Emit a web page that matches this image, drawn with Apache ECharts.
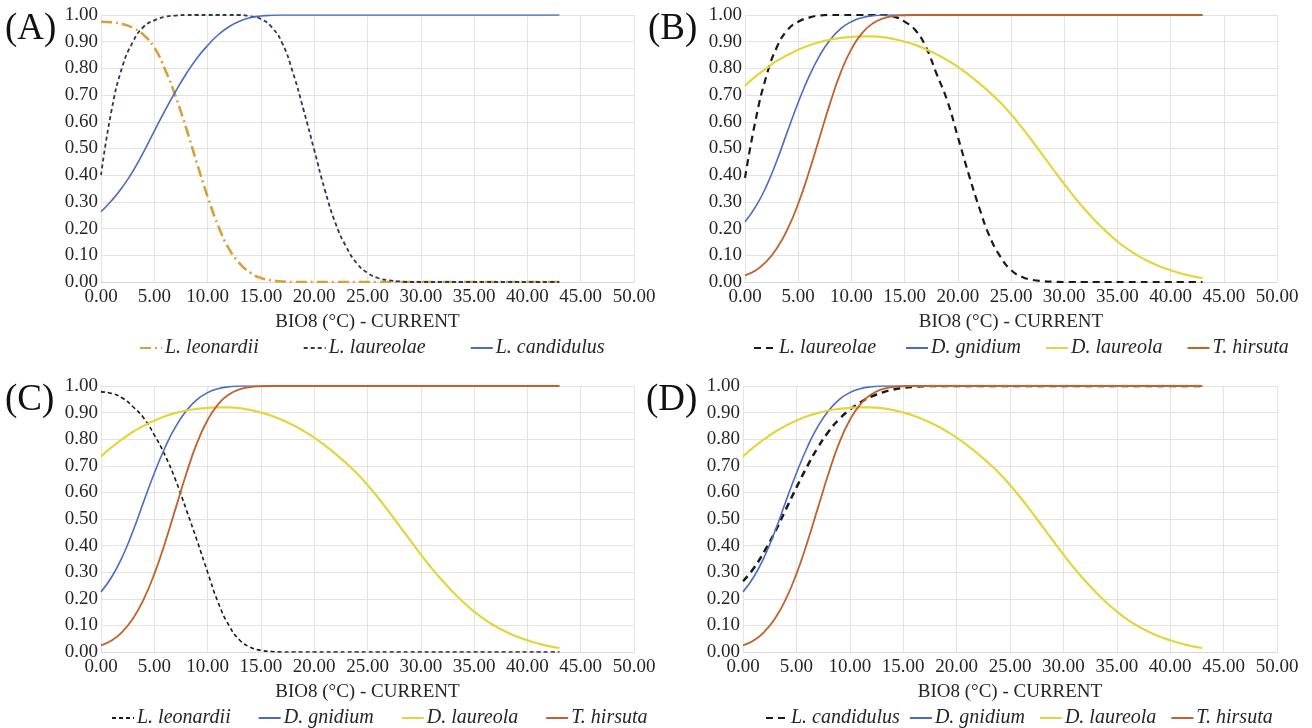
<!DOCTYPE html>
<html>
<head>
<meta charset="utf-8">
<script src="https://cdn.jsdelivr.net/npm/echarts@6/dist/echarts.min.js"></script>
<style>
html,body{margin:0;padding:0;background:#fff;}
#chart{width:1312px;height:728px;}
</style>
</head>
<body>
<div id="chart"></div>
<script>
// x values (BIO8, °C)
const bio8 = [0,1,2,3,4,5,6,7,8,9,10,11,12,13,14,15,16,17,18,19,20,21,22,23,24,25,26,27,28,29,30,31,32,33,34,35,36,37,38,39,40,41,42,43];

// Panel A
const A_leonardii = [0.975,0.973,0.966,0.952,0.925,0.878,0.797,0.695,0.575,0.445,0.32,0.21,0.125,0.07,0.035,0.015,0.006,0.002,0,0,0,0,0,0,0,0,0,0,0,0,0,0,0,0,0,0,0,0,0,0,0,0,0,0];
const A_laureolae = [0.4,0.645,0.806,0.9,0.956,0.98,0.993,0.998,1,1,1,1,1,1,0.995,0.985,0.955,0.895,0.785,0.645,0.495,0.345,0.22,0.132,0.07,0.034,0.015,0.006,0.002,0,0,0,0,0,0,0,0,0,0,0,0,0,0,0];
const A_candidulus = [0.263,0.305,0.355,0.415,0.487,0.565,0.642,0.714,0.78,0.838,0.886,0.926,0.956,0.977,0.99,0.996,0.999,1,1,1,1,1,1,1,1,1,1,1,1,1,1,1,1,1,1,1,1,1,1,1,1,1,1,1];

// Panel B
const B_laureolae = [0.39,0.607,0.77,0.88,0.944,0.975,0.99,0.998,1,1,1,1,1,1,0.994,0.975,0.944,0.88,0.78,0.68,0.544,0.407,0.28,0.17,0.095,0.045,0.02,0.008,0.003,0.001,0,0,0,0,0,0,0,0,0,0,0,0,0,0];

// Shared species (B, C, D)
const D_gnidium = [0.226,0.282,0.358,0.455,0.565,0.672,0.768,0.847,0.907,0.949,0.975,0.99,0.997,1,1,1,1,1,1,1,1,1,1,1,1,1,1,1,1,1,1,1,1,1,1,1,1,1,1,1,1,1,1,1];
const D_laureola = [0.735,0.77,0.8,0.828,0.85,0.87,0.886,0.898,0.908,0.914,0.918,0.92,0.92,0.917,0.91,0.9,0.888,0.872,0.853,0.831,0.806,0.777,0.745,0.71,0.672,0.628,0.58,0.528,0.474,0.42,0.367,0.316,0.269,0.226,0.187,0.152,0.122,0.097,0.076,0.058,0.044,0.032,0.022,0.015];
const T_hirsuta = [0.025,0.043,0.076,0.126,0.198,0.293,0.41,0.54,0.67,0.785,0.872,0.932,0.968,0.987,0.996,0.999,1,1,1,1,1,1,1,1,1,1,1,1,1,1,1,1,1,1,1,1,1,1,1,1,1,1,1,1];

// Panel C
const C_leonardii = [0.978,0.972,0.955,0.922,0.88,0.816,0.74,0.646,0.535,0.42,0.3,0.185,0.1,0.045,0.018,0.006,0.002,0,0,0,0,0,0,0,0,0,0,0,0,0,0,0,0,0,0,0,0,0,0,0,0,0,0,0];

// Panel D
const D_candidulus = [0.266,0.315,0.378,0.452,0.535,0.618,0.697,0.768,0.828,0.875,0.911,0.939,0.96,0.975,0.986,0.993,0.997,0.999,1,1,1,1,1,1,1,1,1,1,1,1,1,1,1,1,1,1,1,1,1,1,1,1,1,1];

const xTitle = 'BIO8 (°C) - CURRENT';
const panelLabels = ['(A)','(B)','(C)','(D)'];

const SERIF = '"Liberation Serif","Times New Roman",serif';
const TXT = '#262626';
const GRIDC = '#e3e3e3';

const grids = [
  {left:101, top:15, width:533, height:267},
  {left:745, top:15, width:532, height:267},
  {left:101, top:386, width:533, height:266},
  {left:743, top:386, width:534, height:266}
];

function xAx(i){
  return {
    type:'value', gridIndex:i, min:0, max:50, interval:5,
    name:xTitle, nameLocation:'middle', nameGap:31,
    nameTextStyle:{fontFamily:SERIF, fontSize:19, color:TXT},
    axisLine:{show:true, lineStyle:{color:'#d9d9d9', width:1}},
    axisTick:{show:false},
    splitLine:{show:true, lineStyle:{color:GRIDC, width:1}},
    axisLabel:{fontFamily:SERIF, fontSize:19, color:TXT, margin:6,
      formatter:v=>v.toFixed(2)}
  };
}
function yAx(i){
  return {
    type:'value', gridIndex:i, min:0, max:1, interval:0.1,
    axisLine:{show:false}, axisTick:{show:false},
    splitLine:{show:true, lineStyle:{color:GRIDC, width:1}},
    axisLabel:{fontFamily:SERIF, fontSize:19, color:TXT, margin:3,
      formatter:v=>v.toFixed(2)}
  };
}
function pts(arr){ return bio8.map((x,k)=>[x, arr[k]]); }
function line(name, arr, idx, color, width, type){
  return {
    name:name, type:'line', xAxisIndex:idx, yAxisIndex:idx,
    data:pts(arr), smooth:true, symbol:'none', showSymbol:false,
    lineStyle:{color:color, width:width, type:type||'solid'},
    itemStyle:{color:color},
    animation:false, z: 3
  };
}

const BLUE = '#4a6cc0';
const YEL = '#e6d43c';
const ORG = '#c0622b';
const GOLD = '#d6a13b';
const NAVY = '#2f3652';
const BLK = '#1a1a1a';

const series = [
  line('L. leonardii', A_leonardii, 0, GOLD, 2.6, [11,4,2,4]),
  line('L. laureolae', A_laureolae, 0, NAVY, 1.8, [4,3]),
  line('L. candidulus', A_candidulus, 0, BLUE, 1.6),

  line('L. laureolae ', B_laureolae, 1, BLK, 2.2, [7,5]),
  line('D. gnidium', D_gnidium, 1, BLUE, 1.6),
  line('D. laureola', D_laureola, 1, YEL, 2.2),
  line('T. hirsuta', T_hirsuta, 1, ORG, 1.8),

  line('L. leonardii ', C_leonardii, 2, BLK, 1.6, [4,3]),
  line('D. gnidium ', D_gnidium, 2, BLUE, 1.6),
  line('D. laureola ', D_laureola, 2, YEL, 2.2),
  line('T. hirsuta ', T_hirsuta, 2, ORG, 1.8),

  line('L. candidulus ', D_candidulus, 3, BLK, 2.5, [7,5]),
  line('D. gnidium  ', D_gnidium, 3, BLUE, 1.6),
  line('D. laureola  ', D_laureola, 3, YEL, 2.2),
  line('T. hirsuta  ', T_hirsuta, 3, ORG, 1.8)
];

function legend(names, left, top, gap){
  return {
    data:names, left:left, top:top, itemGap:gap, itemWidth:22, itemHeight:10,
    itemStyle:{opacity:0, color:'transparent', borderWidth:0},
    textStyle:{fontFamily:SERIF, fontSize:20, fontStyle:'italic', color:TXT, padding:[0,0,0,-2]},
    selectedMode:false
  };
}

const option = {
  backgroundColor:'#ffffff',
  animation:false,
  title: [
    {text:panelLabels[0], left:5, top:11},
    {text:panelLabels[1], left:648, top:11},
    {text:panelLabels[2], left:5, top:382},
    {text:panelLabels[3], left:646, top:382}
  ].map(t=>Object.assign(t,{padding:0, textStyle:{fontFamily:SERIF, fontSize:37, fontWeight:'normal', color:'#111'}})),
  grid: grids,
  xAxis: [xAx(0), xAx(1), xAx(2), xAx(3)],
  yAxis: [yAx(0), yAx(1), yAx(2), yAx(3)],
  legend: [
    legend(['L. leonardii','L. laureolae','L. candidulus'], 134, 333, 44),
    legend(['L. laureolae ','D. gnidium','D. laureola','T. hirsuta'], 748, 333, 24),
    legend(['L. leonardii ','D. gnidium ','D. laureola ','T. hirsuta '], 106, 703, 22),
    legend(['L. candidulus ','D. gnidium  ','D. laureola  ','T. hirsuta  '], 760, 703, 4)
  ],
  series: series
};

const chart = echarts.init(document.getElementById('chart'), null, {renderer:'canvas'});
chart.setOption(option);
</script>
</body>
</html>
